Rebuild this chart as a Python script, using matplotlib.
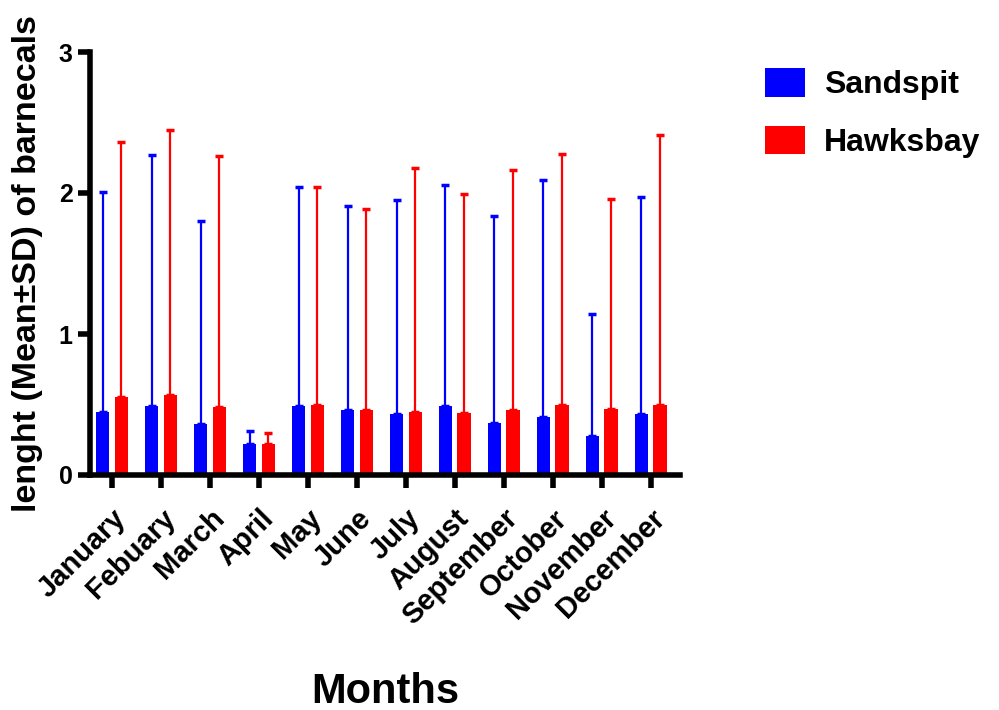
import matplotlib
matplotlib.use("Agg")
import matplotlib.pyplot as plt
import numpy as np

plt.rcParams['font.family'] = ['Liberation Sans', 'DejaVu Sans']
plt.rcParams['font.weight'] = 'bold'

months = ["January", "Febuary", "March", "April", "May", "June", "July",
          "August", "September", "October", "November", "December"]
sandspit_mean = [0.45, 0.49, 0.36, 0.22, 0.49, 0.46, 0.43, 0.49, 0.37, 0.41, 0.28, 0.43]
sandspit_top = [2.01, 2.27, 1.80, 0.31, 2.04, 1.91, 1.95, 2.06, 1.84, 2.09, 1.14, 1.97]
hawksbay_mean = [0.55, 0.57, 0.48, 0.22, 0.50, 0.46, 0.45, 0.44, 0.46, 0.50, 0.47, 0.50]
hawksbay_top = [2.36, 2.45, 2.26, 0.30, 2.04, 1.89, 2.18, 1.99, 2.16, 2.28, 1.96, 2.41]

sandspit_sd = np.array(sandspit_top) - np.array(sandspit_mean)
hawksbay_sd = np.array(hawksbay_top) - np.array(hawksbay_mean)

fig = plt.figure(figsize=(9.99, 7.10), dpi=100)
ax = fig.add_axes([90/999, 1 - 475/710, 590/999, 423/710])

x = np.arange(len(months))
w = 0.27
off = 0.19
ax.bar(x - off, sandspit_mean, w, color='#0000FF', label='Sandspit', zorder=2)
ax.bar(x + off, hawksbay_mean, w, color='#FF0000', label='Hawksbay', zorder=2)
ax.errorbar(x - off, sandspit_mean, yerr=[np.zeros(12), sandspit_sd], fmt='none',
            ecolor='#0000FF', elinewidth=1.6, capsize=3, capthick=2.5, zorder=1)
ax.errorbar(x + off, hawksbay_mean, yerr=[np.zeros(12), hawksbay_sd], fmt='none',
            ecolor='#FF0000', elinewidth=1.6, capsize=3, capthick=2.5, zorder=1)

ax.set_xlim(-0.45, 11.6)
ax.set_ylim(0, 3)
ax.set_yticks([0, 1, 2, 3])
ax.set_xticks(x)
ax.set_xticklabels(months, rotation=45, ha='right', rotation_mode='anchor',
                   fontsize=21, fontweight='bold')
for lab in ax.get_yticklabels():
    lab.set_fontsize(18)
    lab.set_fontweight('bold')

for s in ['top', 'right']:
    ax.spines[s].set_visible(False)
for s in ['left', 'bottom']:
    ax.spines[s].set_linewidth(4)
ax.tick_params(axis='both', width=4, length=9, direction='out')
ax.tick_params(axis='x', pad=12)

ax.set_ylabel('lenght (Mean±SD) of barnecals', fontsize=24.5, fontweight='bold')
ax.yaxis.set_label_coords(-0.08, 0.5)
ax.set_xlabel('Months', fontsize=30, fontweight='bold')
ax.xaxis.set_label_coords(0.5, -0.465)

ax.legend(loc='upper left', bbox_to_anchor=(1.095, 1.03), frameon=False,
          prop={'size': 23, 'weight': 'bold'}, handlelength=1.25, handleheight=1.0,
          labelspacing=0.8, handletextpad=0.6)

fig.savefig('out.png', dpi=100)
